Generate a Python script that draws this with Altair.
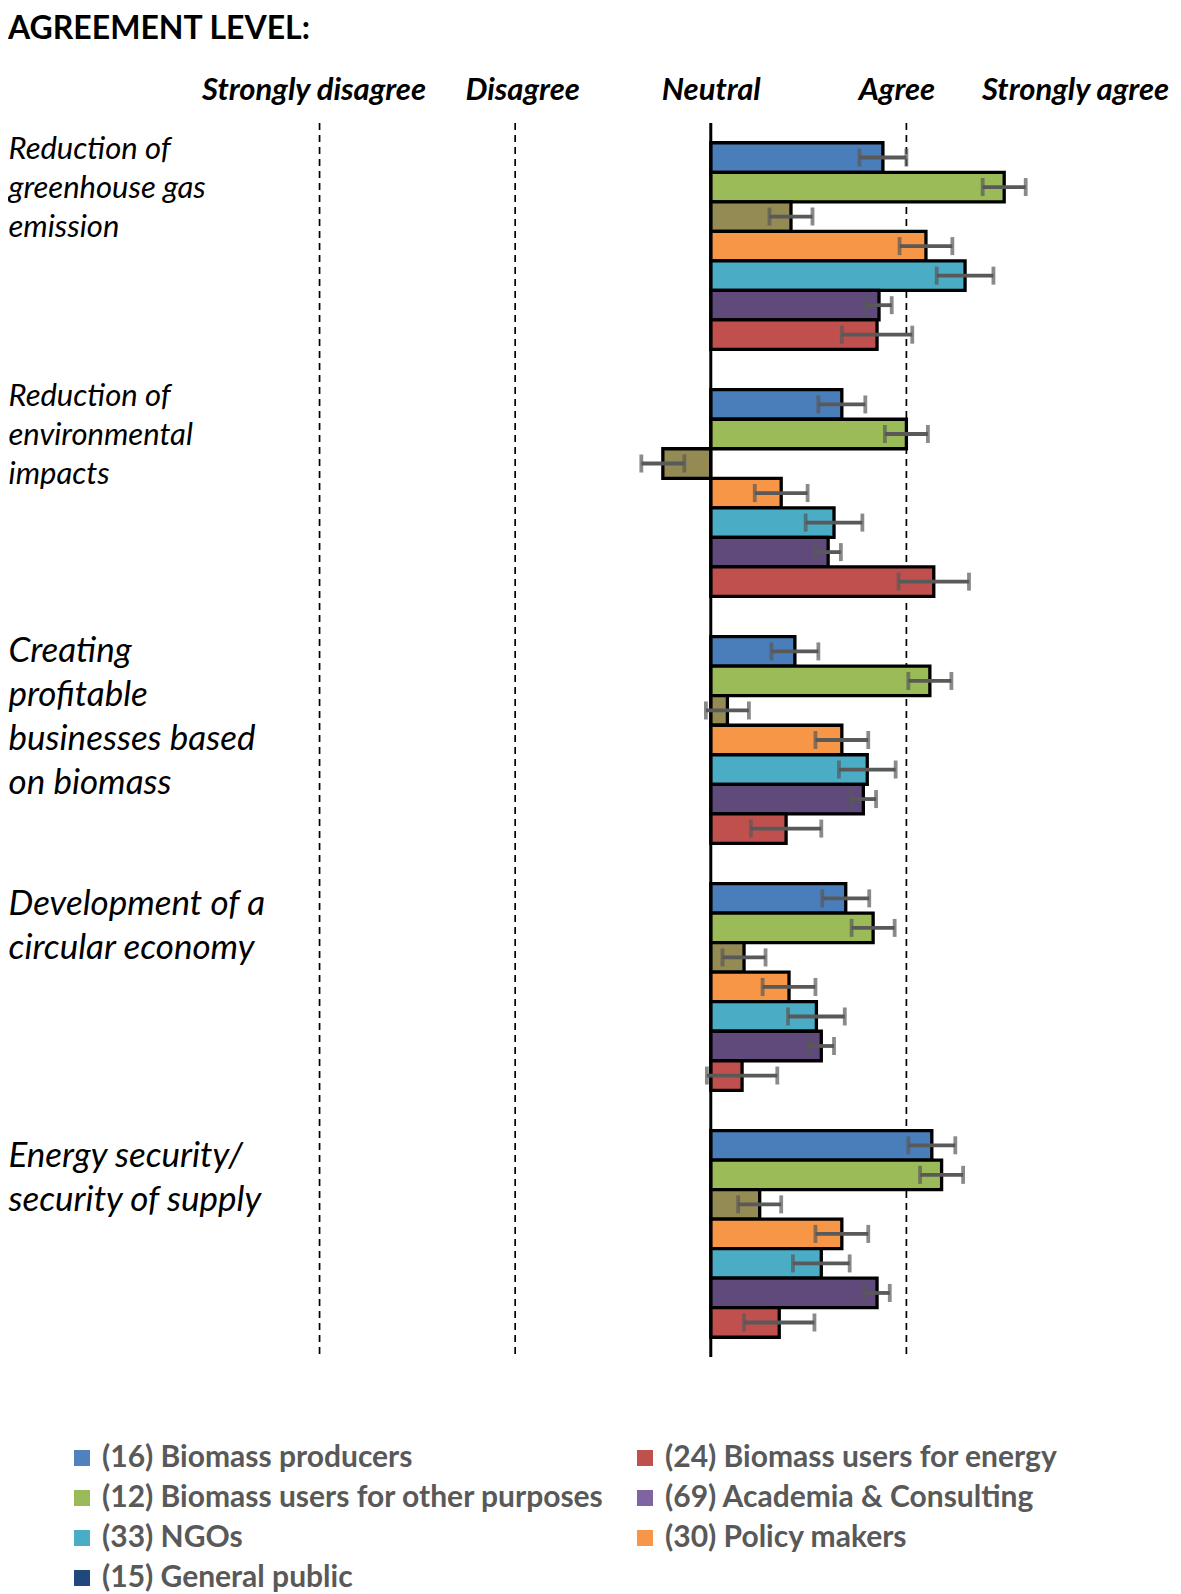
import json
import altair as alt
import pandas as pd

# ---------------- data ----------------
groups = [
    "Reduction of|greenhouse gas|emission",
    "Reduction of|environmental|impacts",
    "Creating|profitable|businesses based|on biomass",
    "Development of a|circular  economy",
    "Energy security/|security of supply",
]
series = [
    "(16) Biomass producers",
    "(12) Biomass users for other purposes",
    "(15) General public",
    "(30) Policy makers",
    "(33) NGOs",
    "(69) Academia & Consulting",
    "(24) Biomass users for energy",
]
bar_colors = ["#4A7EBB", "#9BBB59", "#948A54", "#F79646", "#4BACC6", "#604A7B", "#C0504D"]

vals_g1 = [0.88, 1.50, 0.41, 1.10, 1.30, 0.86, 0.85]
vals_g2 = [0.67, 1.00, -0.245, 0.36, 0.63, 0.60, 1.14]
vals_g3 = [0.43, 1.12, 0.085, 0.67, 0.80, 0.78, 0.385]
vals_g4 = [0.69, 0.83, 0.17, 0.40, 0.54, 0.565, 0.16]
vals_g5 = [1.13, 1.18, 0.25, 0.67, 0.565, 0.85, 0.35]
errs = [0.12, 0.11, 0.11, 0.135, 0.145, 0.065, 0.18]

# legend entries, listed column by column (2 columns)
legend_order = [
    "(16) Biomass producers",
    "(12) Biomass users for other purposes",
    "(33) NGOs",
    "(15) General public",
    "(24) Biomass users for energy",
    "(69) Academia & Consulting",
    "(30) Policy makers",
]
legend_colors = ["#4F81BD", "#9BBB59", "#4BACC6", "#1F497D", "#C0504D", "#8064A2", "#F79646"]

level_values = [-2, -1, 0, 1, 2]
level_labels = ["Strongly disagree", "Disagree", "Neutral", "Agree", "Strongly agree"]
dashed_levels = [-2, -1, 1]

# ---------------- tables ----------------
rows = []
for g, vals in zip(groups, [vals_g1, vals_g2, vals_g3, vals_g4, vals_g5]):
    for s, v, e, c in zip(series, vals, errs, bar_colors):
        rows.append({"group": g, "series": s, "value": v, "lo": v - e, "hi": v + e, "color": c})
df = pd.DataFrame(rows)
caps = df.melt(id_vars=["group", "series"], value_vars=["lo", "hi"], var_name="end", value_name="xv")
df_dash = pd.DataFrame({"v": dashed_levels})
df_zero = pd.DataFrame({"v": [0]})

W, H = 802, 1234

x_scale = alt.Scale(domain=[-2.1, 2.0], nice=False, zero=False)
y_scale = alt.Scale(domain=groups, paddingInner=0.163, paddingOuter=0.08)
yoff_scale = alt.Scale(domain=series, paddingInner=0, paddingOuter=0)

label_expr = "[" + ",".join(json.dumps(l) for l in level_labels) + "][datum.value + 2]"

top_axis = alt.Axis(
    orient="top", values=level_values, labelExpr=label_expr,
    domain=False, ticks=False, grid=False, title=None,
    labelFont="Lato", labelFontSize=31, labelFontWeight="bold", labelFontStyle="italic",
    labelColor="black", labelPadding=17, labelOverlap=False, labelBound=False, labelFlush=False,
    labelLimit=0,
    labelOffset={"condition": [
        {"test": "datum.value == 2", "value": -27},
        {"test": "datum.value == 1", "value": -10},
        {"test": "datum.value == -1", "value": 7},
        {"test": "datum.value == -2", "value": -6},
    ], "value": 0},
)


def q(s):
    return "'" + s + "'"


y_axis = alt.Axis(
    title=None, domain=False, ticks=False, grid=False,
    labelAlign="left", labelBaseline="top", labelPadding=292, labelLimit=0,
    labelExpr="split(datum.label, '|')",
    labelFont="Lato", labelFontStyle="italic", labelColor="black",
    labelFontSize={"condition": {"test": "indexof(datum.value, 'Reduction') == 0", "value": 31}, "value": 35},
    labelLineHeight=alt.ExprRef("indexof(datum.value, 'Reduction') == 0 ? 39 : 44"),
    labelOffset={"condition": [
        {"test": "datum.value == " + q(groups[0]), "value": -111},
        {"test": "datum.value == " + q(groups[1]), "value": -111},
        {"test": "datum.value == " + q(groups[2]), "value": -106},
        {"test": "datum.value == " + q(groups[3]), "value": -100},
    ], "value": -95},
    labelOverlap=False,
)

Y = alt.Y("group:N", scale=y_scale, axis=y_axis)
YO = alt.YOffset("series:N", scale=yoff_scale)

dashed = alt.Chart(df_dash).mark_rule(strokeDash=[7, 5], strokeWidth=1.7, color="black").encode(
    x=alt.X("v:Q", scale=x_scale, axis=top_axis)
)

bars = alt.Chart(df).mark_bar(stroke="black", strokeWidth=3.3).encode(
    x=alt.X("value:Q", scale=x_scale, axis=top_axis),
    y=Y, yOffset=YO,
    fill=alt.Fill("color:N", scale=None),
)

zero_line = alt.Chart(df_zero).mark_rule(strokeWidth=3, color="black").encode(
    x=alt.X("v:Q", scale=x_scale, axis=top_axis)
)

err_rules = alt.Chart(df).mark_rule(strokeWidth=3.8, color="#595959").encode(
    x=alt.X("lo:Q", scale=x_scale, axis=top_axis), x2="hi:Q",
    y=Y, yOffset=YO,
)

err_caps = alt.Chart(caps).mark_tick(thickness=3.8, size=18, color="#595959").encode(
    x=alt.X("xv:Q", scale=x_scale, axis=top_axis),
    y=Y, yOffset=YO,
)

legend_layer = alt.Chart(df).mark_square(opacity=0, size=1).encode(
    x=alt.X("value:Q", scale=x_scale, axis=top_axis),
    y=Y, yOffset=YO,
    color=alt.Color(
        "series:N",
        scale=alt.Scale(domain=legend_order, range=legend_colors),
        legend=alt.Legend(
            title=None, orient="none", legendX=-233, legendY=1320,
            columns=2, columnPadding=25, rowPadding=10, padding=0,
            symbolType="square", symbolSize=256, symbolOpacity=1, symbolStrokeWidth=0,
            labelFont="Lato", labelFontSize=30, labelFontWeight="bold", labelColor="#595959",
            labelOffset=5, labelLimit=0,
        ),
    ),
)

chart = alt.layer(dashed, bars, zero_line, err_rules, err_caps, legend_layer).properties(
    width=W, height=H, padding={"left": 0, "top": 5, "right": 0, "bottom": 0},
    title=alt.TitleParams(
        "AGREEMENT LEVEL:", anchor="start", frame="bounds", font="Lato",
        fontSize=32, fontWeight="bold", color="black", offset=28,
    ),
).configure_view(stroke=None)

chart.save("out.html", embed_options={"renderer": "svg", "actions": False})
